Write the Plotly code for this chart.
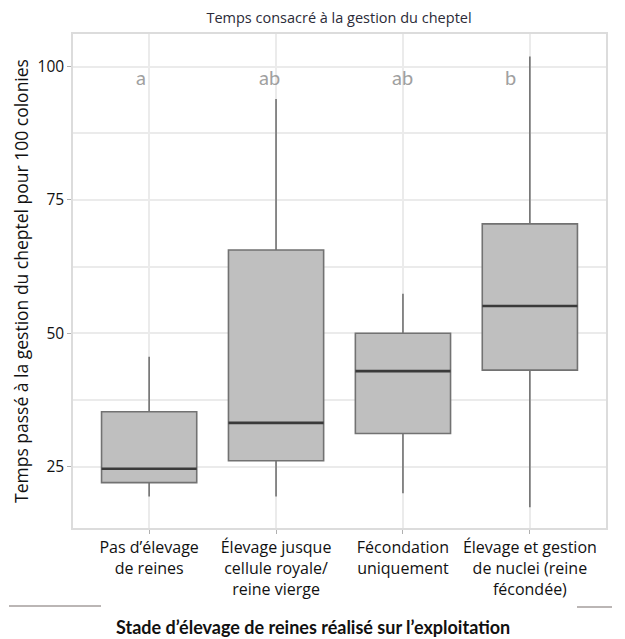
import plotly.graph_objects as go

categories = [
    "Pas d\u2019élevage<br>de reines",
    "Élevage jusque<br>cellule royale/<br>reine vierge",
    "Fécondation<br>uniquement",
    "Élevage et gestion<br>de nuclei (reine<br>fécondée)",
]
lower = [19.4, 19.4, 20.0, 17.4]
q1 = [22.0, 26.1, 31.2, 43.1]
median = [24.6, 33.2, 42.9, 55.1]
q3 = [35.3, 65.6, 50.0, 70.5]
upper = [45.6, 93.9, 57.4, 101.9]
letters = ["a", "ab", "ab", "b"]
letter_shift = [-8, -7, 0, -19]
letter_y = 98.1
yticks = [25, 50, 75, 100]

xs = list(range(len(categories)))
box_w = 0.75

# page body has an 8px margin: figure is drawn 8px in from the window corner
OFF = 8
W, H = 625 - OFF, 639 - OFF
PL, PR, PT, PB = 73, 606, 34, 528  # plot area in window pixels
PW, PH = PR - PL, PB - PT


def px(xw):
    return (xw - PL) / PW


def py(yw):
    return (PB - yw) / PH


fig = go.Figure()
fig.add_trace(go.Box(
    x=xs, q1=q1, median=median, q3=q3, lowerfence=lower, upperfence=upper,
    width=box_w, whiskerwidth=0, fillcolor="#bfbfbf",
    line=dict(color="#727272", width=1.6), boxpoints=False, showlegend=False,
    hoverinfo="skip",
))

mx, my = [], []
for i, m in zip(xs, median):
    mx += [i - box_w / 2, i + box_w / 2, None]
    my += [m, m, None]
fig.add_trace(go.Scatter(x=mx, y=my, mode="lines",
                         line=dict(color="#3a3a3a", width=2.6),
                         showlegend=False, hoverinfo="skip"))

for i, (t, s) in enumerate(zip(letters, letter_shift)):
    fig.add_annotation(x=i, y=letter_y, text=t, showarrow=False, xshift=s,
                       font=dict(family="Lato", size=20, color="#a0a0a0"))

# decorative lines at bottom
fig.add_shape(type="line", xref="paper", yref="paper",
              x0=px(9), x1=px(101), y0=py(606), y1=py(606),
              line=dict(color="#a59e9c", width=1.5))
fig.add_shape(type="line", xref="paper", yref="paper",
              x0=px(577), x1=px(612), y0=py(607), y1=py(607),
              line=dict(color="#a59e9c", width=1.5))

fig.add_annotation(xref="paper", yref="paper", x=px(312.5), y=py(627),
                   text="<b>Stade d\u2019élevage de reines réalisé sur l\u2019exploitation</b>",
                   showarrow=False, xanchor="center", yanchor="middle",
                   font=dict(family="Lato", size=18, color="#111111"))

fig.update_layout(
    width=W, height=H,
    margin=dict(l=PL - OFF, r=W - (PR - OFF), t=PT - OFF, b=H - (PB - OFF)),
    paper_bgcolor="white", plot_bgcolor="white",
    title=dict(text="Temps consacré à la gestion du cheptel", x=(339 - OFF) / W,
               xanchor="center", y=1 - (18 - OFF) / H, yanchor="middle",
               font=dict(family="Open Sans", size=14.5, color="#2b2b38")),
)
fig.update_xaxes(
    range=[-0.6, 3.6], tickvals=xs, ticktext=categories,
    showgrid=True, gridcolor="#ebebeb", gridwidth=1.5,
    showline=True, linecolor="#dcdcdc", linewidth=1.5, mirror=True,
    ticks="outside", ticklen=4, tickcolor="#b0b0b0", tickwidth=1,
    tickfont=dict(family="Open Sans", size=16, color="#111111"), zeroline=False,
)
fig.update_yaxes(
    range=[13.5, 106.1], tickvals=yticks,
    showgrid=True, gridcolor="#ebebeb", gridwidth=1.5,
    minor=dict(dtick=12.5, tick0=0, showgrid=True, gridcolor="#ebebeb", gridwidth=1.5),
    showline=True, linecolor="#dcdcdc", linewidth=1.5, mirror=True,
    ticks="outside", ticklen=4, tickcolor="#b0b0b0", tickwidth=1,
    tickfont=dict(family="Open Sans", size=15.5, color="#111111"), zeroline=False,
    title=dict(text="Temps passé à la gestion du cheptel pour 100 colonies",
               font=dict(family="Open Sans", size=17.5, color="#111111"), standoff=4),
)

fig.write_html("out.html")
